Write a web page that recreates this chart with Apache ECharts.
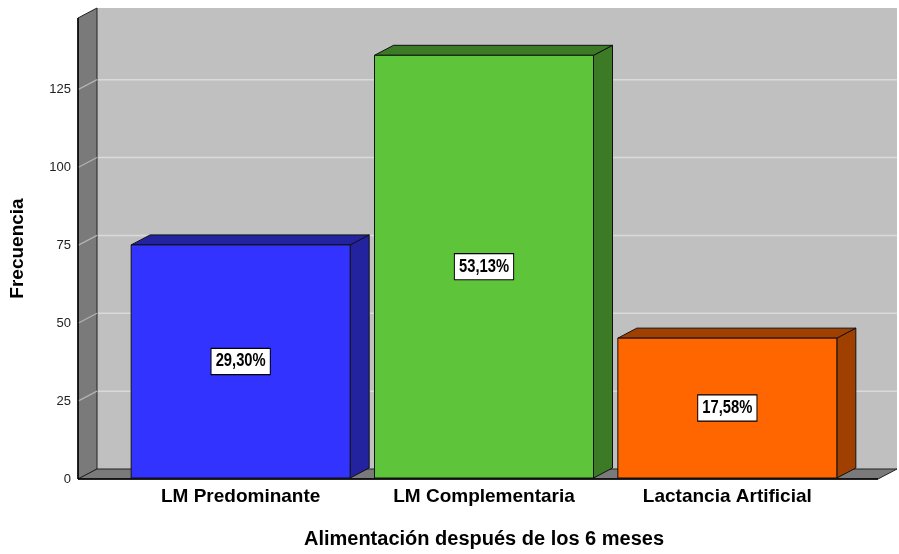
<!DOCTYPE html>
<html>
<head>
<meta charset="utf-8">
<script src="https://cdn.jsdelivr.net/npm/echarts@6/dist/echarts.min.js"></script>
<style>
html, body { margin: 0; padding: 0; background: #fff; }
#main { width: 899px; height: 554px; }
</style>
</head>
<body>
<div id="main"></div>
<script>
// datos
var categorias = ['LM Predominante', 'LM Complementaria', 'Lactancia Artificial'];
var frecuencias = [75, 136, 45];
var ticksY = [25, 50, 75, 100, 125];
var colores = ['#3333ff', '#5ec43a', '#ff6600'];
var coloresOscuros = ['#2323a0', '#3c7a25', '#a04000'];

var total = frecuencias.reduce(function (a, b) { return a + b; }, 0);
var DX = 19, DY = 10;          // profundidad 3D
var YMAX = 148;
var fuente = 'Arial, "Liberation Sans", sans-serif';

var myChart = echarts.init(document.getElementById('main'));

function renderParedes(params, api) {
    var a = api.coord([0, 0]);
    var b = api.coord([1, YMAX]);
    var x0 = a[0], y0 = a[1], x1 = b[0], y1 = b[1];
    var hijos = [];
    // pared del fondo
    hijos.push({ type: 'polygon', shape: { points: [[x0 + DX, y1 - DY], [x1 + DX, y1 - DY], [x1 + DX, y0 - DY], [x0 + DX, y0 - DY]] },
        style: { fill: '#c0c0c0', stroke: null } });
    // lineas de cuadricula
    ticksY.forEach(function (t) {
        var y = api.coord([0, t])[1];
        hijos.push({ type: 'polyline', shape: { points: [[x0, y], [x0 + DX, y - DY], [x1 + DX, y - DY]] },
            style: { stroke: '#dadada', lineWidth: 1.5, fill: null } });
    });
    // pared lateral
    hijos.push({ type: 'polygon', shape: { points: [[x0, y1], [x0 + DX, y1 - DY], [x0 + DX, y0 - DY], [x0, y0]] },
        style: { fill: '#7a7a7a', stroke: '#222', lineWidth: 1 } });
    ticksY.forEach(function (t) {
        var y = api.coord([0, t])[1];
        hijos.push({ type: 'line', shape: { x1: x0, y1: y, x2: x0 + DX, y2: y - DY },
            style: { stroke: '#b4b4b4', lineWidth: 1.2 } });
    });
    // suelo
    hijos.push({ type: 'polygon', shape: { points: [[x0, y0], [x0 + DX, y0 - DY], [x1 + DX, y0 - DY], [x1, y0]] },
        style: { fill: '#7a7a7a', stroke: '#222', lineWidth: 1 } });
    hijos.push({ type: 'line', shape: { x1: x0, y1: y0, x2: x1, y2: y0 }, style: { stroke: '#000', lineWidth: 1.5 } });
    hijos.push({ type: 'line', shape: { x1: x0, y1: y0, x2: x0, y2: y1 }, style: { stroke: '#000', lineWidth: 1.5 } });
    return { type: 'group', children: hijos };
}

function renderBarra(params, api) {
    var i = api.value(0);
    var v = api.value(1);
    var arriba = api.coord([i, v]);
    var abajo = api.coord([i, 0]);
    var w = api.size([1, 0])[0] * 0.9;
    var xa = arriba[0] - w / 2, xb = arriba[0] + w / 2;
    var yt = arriba[1], yb = abajo[1];
    var pct = (v / total * 100).toFixed(2).replace('.', ',') + '%';
    var borde = { stroke: '#111', lineWidth: 1 };
    return {
        type: 'group',
        children: [
            { type: 'polygon', shape: { points: [[xb, yt], [xb + DX, yt - DY], [xb + DX, yb - DY], [xb, yb]] },
              style: Object.assign({ fill: coloresOscuros[i] }, borde) },
            { type: 'polygon', shape: { points: [[xa, yt], [xa + DX, yt - DY], [xb + DX, yt - DY], [xb, yt]] },
              style: Object.assign({ fill: coloresOscuros[i] }, borde) },
            { type: 'rect', shape: { x: xa, y: yt, width: w, height: yb - yt },
              style: Object.assign({ fill: colores[i] }, borde) },
            // etiqueta condensada (escala horizontal)
            { type: 'text', x: (xa + xb) / 2, y: (yt + yb) / 2, scaleX: 0.82, scaleY: 1,
              style: { text: pct, align: 'center', verticalAlign: 'middle',
                font: 'bold 18px ' + fuente, fill: '#000',
                backgroundColor: '#fff', borderColor: '#000', borderWidth: 1.2, padding: [4, 5, 3, 5] } }
        ]
    };
}

var option = {
    animation: false,
    backgroundColor: '#fff',
    grid: [
        { left: 78, right: 21, top: 18, bottom: 75 },
        { left: 119, right: 50, top: 18, bottom: 75 }
    ],
    xAxis: [
        { type: 'value', gridIndex: 0, min: 0, max: 1, show: false },
        { type: 'category', gridIndex: 1, data: categorias,
          axisLine: { show: false }, axisTick: { show: false },
          axisLabel: { color: '#000', fontSize: 19, fontWeight: 'bold', fontFamily: fuente, margin: 9 },
          name: 'Alimentación después de los 6 meses', nameLocation: 'middle', nameGap: 51,
          nameTextStyle: { color: '#000', fontSize: 20, fontWeight: 'bold', fontFamily: fuente } }
    ],
    yAxis: [
        { type: 'value', gridIndex: 0, min: 0, max: YMAX, interval: 25,
          axisLine: { show: false }, axisTick: { show: false }, splitLine: { show: false },
          axisLabel: { color: '#222', fontSize: 13, margin: 7, showMaxLabel: false, fontFamily: fuente },
          name: 'Frecuencia', nameLocation: 'middle', nameGap: 51,
          nameTextStyle: { color: '#000', fontSize: 19, fontWeight: 'bold', fontFamily: fuente } },
        { type: 'value', gridIndex: 1, min: 0, max: YMAX, show: false }
    ],
    series: [
        { type: 'custom', xAxisIndex: 0, yAxisIndex: 0, z: 1, silent: true,
          data: [[0, 0]], renderItem: renderParedes },
        { type: 'custom', xAxisIndex: 1, yAxisIndex: 1, z: 5,
          data: frecuencias.map(function (v, i) { return [i, v]; }),
          encode: { x: 0, y: 1 }, renderItem: renderBarra }
    ]
};

myChart.setOption(option);
</script>
</body>
</html>
